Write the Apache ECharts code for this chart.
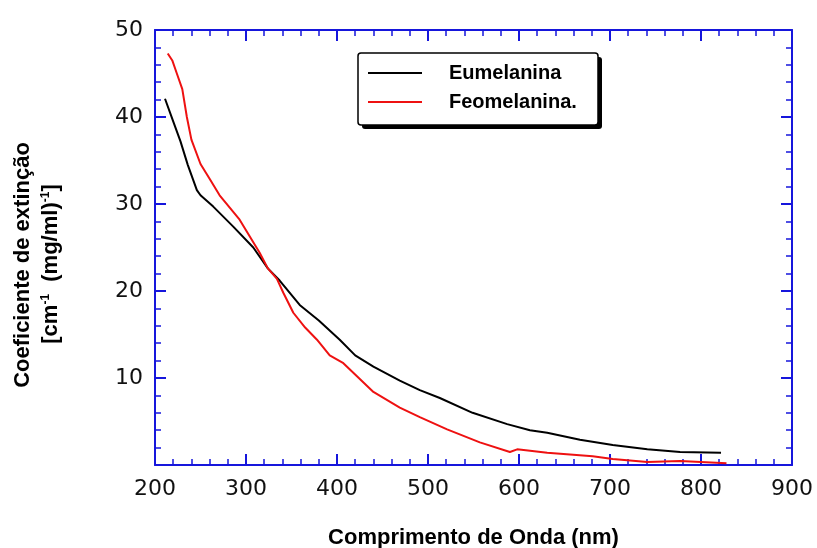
<!DOCTYPE html>
<html>
<head>
<meta charset="utf-8">
<title>Coeficiente de extinção</title>
<script src="https://cdn.jsdelivr.net/npm/echarts@6/dist/echarts.min.js"></script>
<style>
html, body { margin: 0; padding: 0; background: #fff; }
#chart { width: 817px; height: 548px; }
</style>
</head>
<body>
<div id="chart"></div>
<script>
// dados (nm, coeficiente)
var euX = [211, 220, 228, 236, 246, 250, 264, 286, 308, 324, 337, 359, 380, 403, 420, 440, 469, 491, 513, 549, 587, 612, 631, 667, 703, 741, 777, 822];
var euY = [42.1, 39.5, 37.2, 34.5, 31.6, 31.0, 29.7, 27.4, 25.0, 22.6, 21.2, 18.4, 16.6, 14.4, 12.6, 11.3, 9.7, 8.6, 7.7, 6.0, 4.7, 4.0, 3.7, 2.9, 2.3, 1.8, 1.5, 1.4];

var feoX = [214, 219, 224, 230, 235, 240, 250, 260, 271, 293, 315, 324, 334, 341, 352, 365, 378, 392, 407, 440, 469, 491, 521, 557, 590, 598, 631, 681, 703, 741, 777, 828];
var feoY = [47.3, 46.5, 45.0, 43.2, 40.0, 37.4, 34.6, 32.9, 31.0, 28.2, 24.4, 22.6, 21.4, 19.8, 17.5, 15.8, 14.4, 12.6, 11.7, 8.4, 6.6, 5.5, 4.1, 2.6, 1.5, 1.8, 1.4, 1.0, 0.7, 0.35, 0.45, 0.2];

var xTickLabels = [200, 300, 400, 500, 600, 700, 800, 900];
var yTickLabels = [10, 20, 30, 40, 50];

var seriesNames = ['Eumelanina', 'Feomelanina.'];

function pairs(xs, ys) {
	var out = [];
	for(var i = 0; i < xs.length; i++) {
		out.push([xs[i], ys[i]]);
	}
	return out;
}

var blue = '#1616dc';

function frameAxis(pos, min, max, interval, labels) {
	var main = (pos == 'bottom' || pos == 'left');
	return {
		type: 'value',
		position: pos,
		min: min,
		max: max,
		interval: interval,
		axisLine: { show: true, onZero: false, lineStyle: { color: blue, width: 2 } },
		axisTick: { show: true, inside: true, length: 11, lineStyle: { color: blue, width: 2 } },
		minorTick: { show: true, splitNumber: 5, length: 6, lineStyle: { color: blue, width: 1.5 } },
		splitLine: { show: false },
		axisLabel: {
			show: main,
			color: '#111',
			fontFamily: 'DejaVu Sans',
			fontSize: 22,
			margin: (pos == 'bottom') ? 13 : 12,
			formatter: function(v) {
				return labels.indexOf(v) >= 0 ? String(v) : '';
			}
		}
	};
}

var myChart = echarts.init(document.getElementById('chart'));

var xBottom = frameAxis('bottom', 200, 900, 100, xTickLabels);
xBottom.name = 'Comprimento de Onda (nm)';
xBottom.nameLocation = 'middle';
xBottom.nameGap = 62;
xBottom.nameTextStyle = { fontFamily: 'Liberation Sans', fontWeight: 'bold', fontSize: 22, color: '#000' };

var option = {
	backgroundColor: '#fff',
	animation: false,
	grid: { left: 155, right: 25, top: 30, bottom: 83, containLabel: false, outerBoundsMode: 'none' },
	xAxis: [xBottom, frameAxis('top', 200, 900, 100, xTickLabels)],
	yAxis: [frameAxis('left', 0, 50, 10, yTickLabels), frameAxis('right', 0, 50, 10, yTickLabels)],
	legend: {
		left: 358,
		top: 53,
		orient: 'vertical',
		icon: 'rect',
		itemWidth: 54,
		itemHeight: 2,
		itemGap: 9,
		padding: [10, 26, 12, 10],
		selectedMode: false,
		data: seriesNames,
		textStyle: {
			fontFamily: 'Liberation Sans',
			fontWeight: 'bold',
			fontSize: 20,
			color: '#000',
			padding: [0, 0, 0, 22]
		}
	},
	graphic: [{
		// sombra da caixa da legenda
		type: 'rect',
		shape: { x: 362, y: 57, width: 240, height: 72, r: 3 },
		style: { fill: '#000' }
	}, {
		type: 'rect',
		shape: { x: 358, y: 53, width: 240, height: 72, r: 3 },
		style: { fill: '#fff', stroke: '#000', lineWidth: 1.5 }
	}, {
		type: 'text',
		x: 23,
		y: 265,
		rotation: Math.PI / 2,
		style: {
			text: 'Coeficiente de extinção',
			align: 'center',
			verticalAlign: 'middle',
			font: 'bold 22px "Liberation Sans"',
			fill: '#000'
		}
	}, {
		type: 'text',
		x: 51,
		y: 264,
		rotation: Math.PI / 2,
		style: {
			text: '[cm{sup|-1}  (mg/ml){sup|-1}]',
			align: 'center',
			verticalAlign: 'middle',
			font: 'bold 22px "Liberation Sans"',
			fill: '#000',
			rich: {
				sup: {
					font: 'bold 12px "Liberation Sans"',
					fill: '#000',
					verticalAlign: 'top',
					lineHeight: 22
				}
			}
		}
	}],
	series: [{
		name: seriesNames[0],
		type: 'line',
		showSymbol: false,
		symbol: 'none',
		data: pairs(euX, euY),
		itemStyle: { color: '#000' },
		lineStyle: { color: '#000', width: 2 }
	}, {
		name: seriesNames[1],
		type: 'line',
		showSymbol: false,
		symbol: 'none',
		data: pairs(feoX, feoY),
		itemStyle: { color: '#ee1111' },
		lineStyle: { color: '#ee1111', width: 2 }
	}]
};

myChart.setOption(option);
window.onresize = function() {
	myChart.resize();
}
</script>
</body>
</html>
